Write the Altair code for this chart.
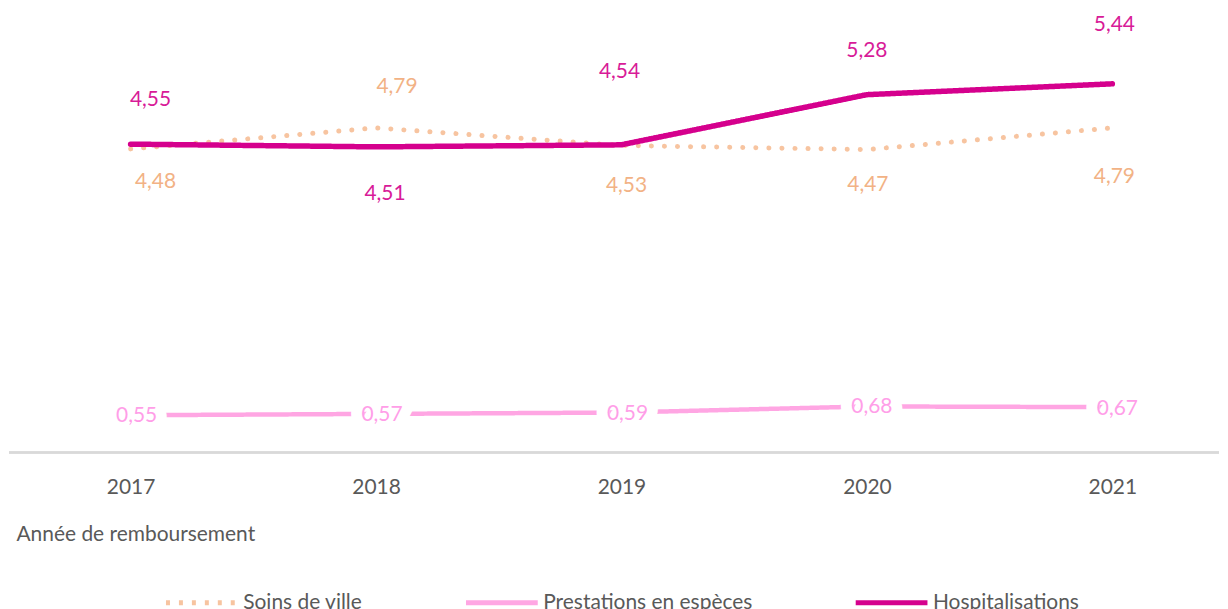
import altair as alt
import pandas as pd

years = ["2017", "2018", "2019", "2020", "2021"]
series_names = ["Soins de ville", "Prestations en espèces", "Hospitalisations"]
soins = [4.48, 4.79, 4.53, 4.47, 4.79]
prest = [0.55, 0.57, 0.59, 0.68, 0.67]
hosp = [4.55, 4.51, 4.54, 5.28, 5.44]
values = [soins, prest, hosp]

line_colors = ["#F7C4A0", "#FFA6E3", "#D5008D"]
label_colors = ["#F2B285", "#FF9EE8", "#D81B98"]
line_dashes = [[0.1, 13], None, None]
legend_dashes = [[4, 9], [1, 0], [1, 0]]
line_widths = [5, 4.5, 5.5]

# label offsets (pixels) relative to each point
label_dx = [[25, 21, 5, 1, 2], [6, 6, 6, 5, 5], [20, 9, -2, 0, 2]]
label_dy = [[33, -41, 41, 36, 49], [1, 1, 1, 1, 2], [-44, 47, -73, -44, -59]]

FONT = "Lato"
GREY = "#595959"

rows = []
for s, vals in zip(series_names, values):
    for yr, v in zip(years, vals):
        rows.append({"year": yr, "series": s, "value": v})
df = pd.DataFrame(rows)
df["label"] = [f"{v:.2f}".replace(".", ",") for v in df["value"]]

x_enc = alt.X(
    "year:O",
    scale=alt.Scale(range=[122, 1107], padding=0),
    axis=alt.Axis(
        title="Année de remboursement",
        domain=False,
        ticks=False,
        grid=False,
        labelAngle=0,
        labelFont=FONT,
        labelFontSize=21,
        labelColor=GREY,
        labelPadding=24,
        titleFont=FONT,
        titleFontSize=21,
        titleFontWeight="normal",
        titleColor=GREY,
        titleAnchor="start",
        titleAlign="left",
        titleBaseline="middle",
        titleX=7,
        titleY=82,
    ),
)
y_enc = alt.Y("value:Q", scale=alt.Scale(domain=[0, 6.544], nice=False, zero=True), axis=None)

color_enc = alt.Color(
    "series:N",
    scale=alt.Scale(domain=series_names, range=line_colors),
    legend=alt.Legend(
        title=None,
        orient="none",
        legendX=155,
        legendY=557,
        direction="horizontal",
        symbolType="stroke",
        symbolSize=72 * 72,
        symbolStrokeWidth=5,
        labelFont=FONT,
        labelFontSize=21,
        labelColor=GREY,
        labelOffset=3,
        labelLimit=400,
        columnPadding=93,
    ),
)
dash_enc = alt.StrokeDash(
    "series:N",
    scale=alt.Scale(domain=series_names, range=legend_dashes),
    legend=None,
)

base = alt.Chart(df).encode(x=x_enc, y=y_enc)

axis_rule = base.mark_rule(color="#D9D9D9", strokeWidth=1.5).encode(
    x=alt.value(0), x2=alt.value(1214), y=alt.value(445)
)

layers = [axis_rule]
for i, s in enumerate(series_names):
    if line_dashes[i] is not None:
        mark = base.transform_filter(alt.datum.series == s).mark_line(
            strokeCap="round", strokeJoin="round", strokeWidth=line_widths[i],
            strokeDash=line_dashes[i],
        )
        enc = {"color": color_enc}
    else:
        mark = base.transform_filter(alt.datum.series == s).mark_line(
            strokeCap="round", strokeJoin="round", strokeWidth=line_widths[i],
        )
        enc = {"color": color_enc, "strokeDash": dash_enc}
    layers.append(mark.encode(order=alt.Order("year:O"), **enc))

for i, s in enumerate(series_names):
    for j, yr in enumerate(years):
        sub = base.transform_filter(
            (alt.datum.series == s) & (alt.datum.year == yr)
        )
        if s == "Prestations en espèces":
            layers.append(
                sub.mark_text(
                    dx=label_dx[i][j], dy=label_dy[i][j], font=FONT, fontSize=21,
                    color="white", stroke="white", strokeWidth=22,
                    strokeJoin="round",
                ).encode(text="label:N")
            )
        layers.append(
            sub.mark_text(
                dx=label_dx[i][j], dy=label_dy[i][j], font=FONT, fontSize=21,
                color=label_colors[i],
            ).encode(text="label:N")
        )

chart = (
    alt.layer(*layers)
    .properties(width=1200, height=445, padding=0)
    .configure_view(stroke=None)
)

chart.save("out.html", embed_options={"renderer": "svg", "actions": False})
